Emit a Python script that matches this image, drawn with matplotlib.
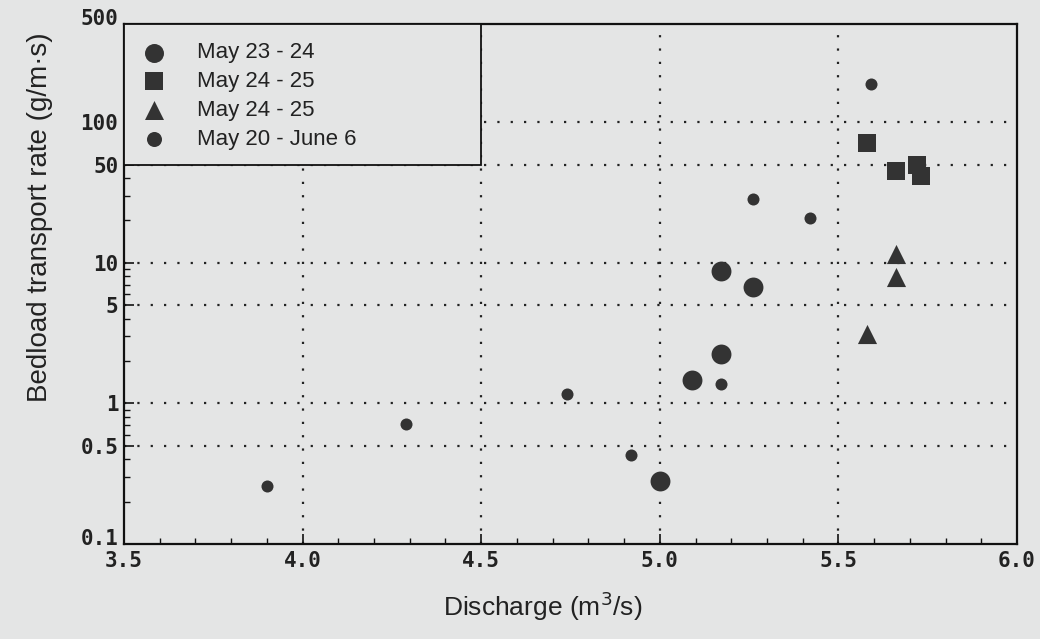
import numpy as np
import matplotlib
matplotlib.use("Agg")
from matplotlib import pyplot as plt
from matplotlib.patches import Rectangle
from matplotlib.transforms import ScaledTranslation
from matplotlib.ticker import FixedLocator, NullFormatter, MultipleLocator, LogLocator

# data
big_x = [5.09, 5.17, 5.17, 5.26, 5.00]
big_y = [1.46, 2.25, 8.8, 6.7, 0.28]
sq_x = [5.58, 5.66, 5.72, 5.73]
sq_y = [71, 45, 50, 41.5]
tri_x = [5.66, 5.66, 5.58]
tri_y = [11.5, 7.9, 3.1]
sm_x = [5.59, 5.26, 5.42, 3.90, 4.29, 4.74, 4.92, 5.17]
sm_y = [188, 28.5, 21, 0.26, 0.71, 1.16, 0.43, 1.37]

labels = ["May 23 - 24", "May 24 - 25", "May 24 - 25", "May 20 - June 6"]
yticks = [0.1, 0.5, 1, 5, 10, 50, 100, 500]
ytick_labels = ["0.1", "0.5", "1", "5", "10", "50", "100", "500"]
xticks = [3.5, 4.0, 4.5, 5.0, 5.5, 6.0]

bg = "#e4e5e5"
ink = "#333333"

fig = plt.figure(figsize=(10.4, 6.39), dpi=100, facecolor=bg)
ax = fig.add_axes([0.1192, 0.1487, 0.8587, 0.8138], facecolor=bg)

ax.set_yscale("log")
ax.set_xlim(3.5, 6.0)
ax.set_ylim(0.1, 500)

# dotted grid
for gx in [4.0, 4.5, 5.0, 5.5]:
	ax.axvline(gx, color="#222222", ls=(0, (1, 5)), lw=1.6, zorder=1)
for gy in [0.5, 1, 5, 10, 50, 100]:
	ax.axhline(gy, color="#222222", ls=(0, (1, 5)), lw=1.6, zorder=1)

ax.scatter(big_x, big_y, s=205, marker="o", color=ink, lw=0, zorder=3, label=labels[0])
ax.scatter(sq_x, sq_y, s=160, marker="s", color=ink, lw=0, zorder=3, label=labels[1])
ax.scatter(tri_x, tri_y, s=190, marker="^", color=ink, lw=0, zorder=3, label=labels[2])
ax.scatter(sm_x, sm_y, s=75, marker="o", color=ink, lw=0, zorder=3, label=labels[3])

# ticks
ax.yaxis.set_major_locator(FixedLocator(yticks))
ax.set_yticklabels(ytick_labels)
ax.yaxis.set_minor_locator(LogLocator(base=10, subs=np.arange(2, 10)))
ax.yaxis.set_minor_formatter(NullFormatter())
ax.set_xticks(xticks)
ax.set_xticklabels(["%.1f" % v for v in xticks])
ax.xaxis.set_minor_locator(MultipleLocator(0.1))
ax.tick_params(which="major", direction="in", length=7, width=1.2, color="#111111",
	labelsize=15)
ax.tick_params(which="minor", direction="in", length=4, width=1, color="#111111")
ax.tick_params(axis="y", pad=4)
ax.tick_params(axis="x", pad=5)
for lab in ax.get_xticklabels() + ax.get_yticklabels():
	lab.set_fontfamily("DejaVu Sans Mono")
	lab.set_fontweight("bold")
	lab.set_color("#222222")

# end labels on the y axis sit a little high in the original
up = ScaledTranslation(0, 5 / 72, fig.dpi_scale_trans)
yt = ax.yaxis.get_major_ticks()
for t in (yt[0], yt[-1]):
	t.label1.set_transform(t.label1.get_transform() + up)

for sp in ax.spines.values():
	sp.set_linewidth(1.6)
	sp.set_color("#111111")

ax.set_xlabel("Discharge (m$^3$/s)", fontsize=19, family="Liberation Sans", color="#222222")
ax.set_ylabel("Bedload transport rate (g/m\u00b7s)", fontsize=20, family="Liberation Sans", color="#222222")
ax.xaxis.set_label_coords(0.469, -0.087)
ax.yaxis.set_label_coords(-0.080, 0.629)

# legend box covers 3.5-4.5 x 50-500
ax.add_patch(Rectangle((3.5, 50), 1.0, 450, facecolor=bg, edgecolor="#111111", lw=1.3, zorder=4))
leg = ax.legend(loc="upper left", bbox_to_anchor=(0, 1), borderaxespad=0, frameon=False,
	prop={"family": "Liberation Sans", "size": 16}, handletextpad=1.42, labelspacing=0.35,
	borderpad=0.83, handlelength=1.04, scatterpoints=1)
leg.set_zorder(5)
for h, s in zip(leg.legend_handles, [187, 150, 187, 117]):
	h.set_sizes([s])
for t in leg.get_texts():
	t.set_color("#222222")

fig.savefig("out.png", dpi=100, facecolor=bg)
